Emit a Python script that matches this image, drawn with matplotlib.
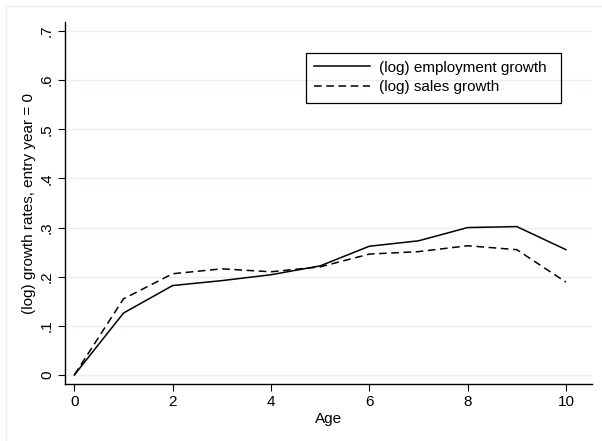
import matplotlib.pyplot as plt
import matplotlib.patches as mpatches
import numpy as np

plt.rcParams['font.family'] = ['Liberation Sans', 'DejaVu Sans']

age = np.arange(0, 11)
emp_growth = [0.0, 0.126, 0.182, 0.192, 0.204, 0.222, 0.262, 0.273, 0.300, 0.302, 0.255]
sales_growth = [0.0, 0.155, 0.206, 0.216, 0.210, 0.220, 0.246, 0.251, 0.263, 0.255, 0.189]
yticks = [0, .1, .2, .3, .4, .5, .6, .7]
ytick_labels = ['0', '.1', '.2', '.3', '.4', '.5', '.6', '.7']

W, H = 602, 441
fig = plt.figure(figsize=(W/100, H/100), dpi=100)
# faint outer graph-region frame
fig.patches.append(mpatches.Rectangle((6/W, -0.1), 1.1, (H-6)/H + 0.1,
                                      transform=fig.transFigure, fill=False,
                                      edgecolor='#eef2f4', linewidth=1.0))

ax = fig.add_axes([65/W, 57/H, 527/W, 362/H])
ax.plot(age, emp_growth, color='black', lw=1.1, label='(log) employment growth')
ax.plot(age, sales_growth, color='black', lw=1.1, dashes=(5, 3), label='(log) sales growth')

ax.set_xlim(-0.19, 10.53)
ax.set_ylim(-0.0184, 0.7184)
ax.set_xticks([0, 2, 4, 6, 8, 10])
ax.set_yticks(yticks)
ax.set_yticklabels(ytick_labels, rotation=90, va='center')
ax.grid(axis='y', color='#e9f0f3', lw=1.0)
ax.set_axisbelow(True)

for s in ['top', 'right']:
    ax.spines[s].set_visible(False)
for s in ['left', 'bottom']:
    ax.spines[s].set_linewidth(1.0)
ax.tick_params(direction='out', length=5, width=0.8, labelsize=11, pad=3)

ax.set_xlabel('Age', fontsize=11, labelpad=2)
ax.set_ylabel('(log) growth rates, entry year = 0', fontsize=11, labelpad=3)

# legend entries without their own frame; box drawn separately
leg = ax.legend(loc='upper left', bbox_to_anchor=(306/W, 1 - 53/H),
                bbox_transform=fig.transFigure, frameon=False,
                fontsize=11, handlelength=3.7,
                borderpad=0.5, labelspacing=0.35, handletextpad=0.55,
                borderaxespad=0)
fig.patches.append(mpatches.Rectangle((306/W, 1 - 103/H), 255/W, 50/H,
                                      transform=fig.transFigure, fill=False,
                                      edgecolor='black', linewidth=0.9))

fig.savefig('out.png', dpi=100)
